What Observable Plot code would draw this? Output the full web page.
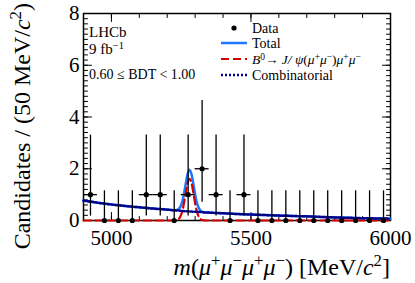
<!DOCTYPE html>
<html><head><meta charset="utf-8">
<script src="https://cdn.jsdelivr.net/npm/d3@7"></script>
<script src="https://cdn.jsdelivr.net/npm/@observablehq/plot@0.6"></script>
<style>body{margin:0;background:#fff}</style>
</head><body><div id="chart"></div>
<script>
// ---- data ----
const binCenters = [4925,4975,5025,5075,5125,5175,5225,5275,5325,5375,5425,5475,5525,5575,5625,5675,5725,5775,5825,5875,5925,5975];
const counts     = [1,0,0,0,1,1,0,1,2,1,0,1,0,0,0,0,0,0,0,0,0,0];
const errLow     = [0.17,0,0,0,0.17,0.17,0,0.17,0.71,0.17,0,0.17,0,0,0,0,0,0,0,0,0,0];
const errHigh    = [3.30,1.15,1.15,1.15,3.30,3.30,1.15,3.30,4.64,3.30,1.15,3.30,1.15,1.15,1.15,1.15,1.15,1.15,1.15,1.15,1.15,1.15];

const curveMass    = [4900,4950,5000,5050,5100,5150,5200,5220,5235,5245,5255,5265,5272,5280,5288,5295,5305,5315,5325,5340,5400,5450,5500,5550,5600,5650,5700,5750,5800,5850,5900,5950,6000];
const combValues   = [0.77,0.69,0.62,0.56,0.51,0.46,0.42,0.40,0.39,0.38,0.37,0.36,0.355,0.35,0.345,0.34,0.335,0.33,0.32,0.31,0.28,0.25,0.23,0.21,0.19,0.175,0.16,0.14,0.12,0.105,0.09,0.08,0.07];
const signalValues = [0,0,0,0,0,0,0,0,0.02,0.11,0.40,0.98,1.40,1.61,1.40,0.98,0.40,0.11,0.02,0,0,0,0,0,0,0,0,0,0,0,0,0,0];
const totalValues  = [0.77,0.69,0.62,0.56,0.51,0.46,0.42,0.40,0.41,0.49,0.77,1.34,1.755,1.96,1.745,1.32,0.735,0.44,0.34,0.31,0.28,0.25,0.23,0.21,0.19,0.175,0.16,0.14,0.12,0.105,0.09,0.08,0.07];

const xTickLabels = [5000,5500,6000];
const yTickLabels = [0,2,4,6,8];

// ---- build ----
const FONT = "'Liberation Serif', 'Times New Roman', serif";
const bins = binCenters.map((m,i)=>({m, n: counts[i], lo: errLow[i], hi: errHigh[i]}));
const curve = curveMass.map((m,i)=>({m, comb: combValues[i], sig: signalValues[i], tot: totalValues[i]}));
const tickShape = {draw(ctx, l){ ctx.moveTo(0,0); ctx.lineTo(0,-l); }};
const yMinor = d3.range(0, 8.001, 0.2);
const xMinor = d3.range(4900, 6001, 100);
const X0 = 4900, X1 = 6000, Y0 = 0, Y1 = 8;

function ticks(data, ch, pos, rotate, length){
  const o = {rotate, length, anchor:"start", shape: tickShape, stroke:"black", strokeWidth:1};
  if (ch === "x") { o.x = d=>d; o.y = pos; } else { o.y = d=>d; o.x = pos; }
  return Plot.vector(data, o);
}

const svgEl = Plot.plot({
  width: 415, height: 283,
  marginLeft: 83, marginRight: 25, marginTop: 13, marginBottom: 63,
  x: {domain:[X0,X1]}, y: {domain:[Y0,Y1]},
  style: {fontFamily: FONT, background:"white", color:"black"},
  marks: [
    Plot.frame({stroke:"black", strokeWidth:1.5}),
    Plot.axisX({ticks: xTickLabels, tickSize:0, tickPadding:10, fontSize:21, fontFamily: FONT, label:null, tickFormat: d3.format("d")}),
    Plot.axisY({ticks: yTickLabels, tickSize:0, tickPadding:4, fontSize:21, fontFamily: FONT, label:null}),
    ticks(yMinor, "y", X0, 90, 4),
    ticks(yTickLabels, "y", X0, 90, 8),
    ticks(yMinor, "y", X1, 270, 4),
    ticks(yTickLabels, "y", X1, 270, 8),
    ticks(xMinor, "x", Y0, 0, 4),
    ticks(xTickLabels, "x", Y0, 0, 8),
    ticks(xMinor, "x", Y1, 180, 4),
    ticks(xTickLabels, "x", Y1, 180, 8),
    Plot.line(curve,{x:"m", y:"tot", stroke:"#1e78ff", strokeWidth:2.5, curve:"monotone-x"}),
    Plot.line(curve,{x:"m", y:"sig", stroke:"#d40000", strokeWidth:2.2, strokeDasharray:"8,4", curve:"monotone-x"}),
    Plot.line(curve,{x:"m", y:"comb", stroke:"#00008b", strokeWidth:2.5, strokeDasharray:"2,2", curve:"monotone-x"}),
    Plot.ruleX(bins,{x:"m", y1:"lo", y2:"hi", stroke:"black", strokeWidth:1.3}),
    Plot.ruleY(bins.filter(d=>d.n>0),{y:"n", x1:d=>d.m-25, x2:d=>d.m+25, stroke:"black", strokeWidth:1.3}),
    Plot.dot(bins,{x:"m", y:"n", r:2.6, fill:"black"})
  ]
});
document.getElementById("chart").appendChild(svgEl);

// ---- texts with super/subscripts ----
const svg = d3.select(svgEl);
function rich(x, y, parts, {size=14, anchor="start", transform=null, sup=0.38}={}){
  const t = svg.append("text").attr("font-family", FONT)
    .attr("font-size", size).attr("text-anchor", anchor).attr("fill","black");
  if (transform) t.attr("transform", transform); else t.attr("x", x).attr("y", y);
  let shift = 0;
  for (const [s, st] of parts){
    const sp = t.append("tspan").text(s);
    let target = 0;
    if (st && st.includes("sup")) { target = -size*sup; sp.attr("font-size", size*0.7); }
    if (st && st.includes("i")) sp.attr("font-style","italic");
    if (target !== shift) { sp.attr("dy", target - shift); shift = target; }
  }
  return t;
}
// axis titles
rich(0,0,[["Candidates / (50 MeV/",""],["c","i"],["2","sup"],[")",""]],{size:24, anchor:"end", transform:"translate(30,3) rotate(-90)"});
rich(390,275,[["m","i"],["(",""],["μ","i"],["+","sup"],["μ","i"],["−","sup"],["μ","i"],["+","sup"],["μ","i"],["−","sup"],[") [MeV/",""],["c","i"],["2","sup"],["]",""]],{size:24, anchor:"end"});
// LHCb labels
rich(89,37,[["LHCb",""]],{size:15});
rich(89,54,[["9 fb",""],["−1","sup"]],{size:15, sup:0.33});
rich(89,79,[["0.60 ≤ BDT < 1.00",""]],{size:14});
// legend
svg.append("circle").attr("cx",234).attr("cy",28).attr("r",2.6).attr("fill","black");
rich(252,33,[["Data",""]],{size:14});
svg.append("line").attr("x1",221).attr("x2",247).attr("y1",43).attr("y2",43).attr("stroke","#1e78ff").attr("stroke-width",2.5);
rich(252,48,[["Total",""]],{size:14});
svg.append("line").attr("x1",221).attr("x2",247).attr("y1",59).attr("y2",59).attr("stroke","#d40000").attr("stroke-width",2.2).attr("stroke-dasharray","8,4");
rich(252,64,[["B","i"],["0","sup"],["→ ",""],["J/ ψ","i"],["(",""],["μ","i"],["+","sup"],["μ","i"],["−","sup"],[")",""],["μ","i"],["+","sup"],["μ","i"],["−","sup"]],{size:13.5, sup:0.3});
svg.append("line").attr("x1",221).attr("x2",247).attr("y1",75).attr("y2",75).attr("stroke","#00008b").attr("stroke-width",2.5).attr("stroke-dasharray","2,2");
rich(252,80,[["Combinatorial",""]],{size:14});
</script>
</body></html>
